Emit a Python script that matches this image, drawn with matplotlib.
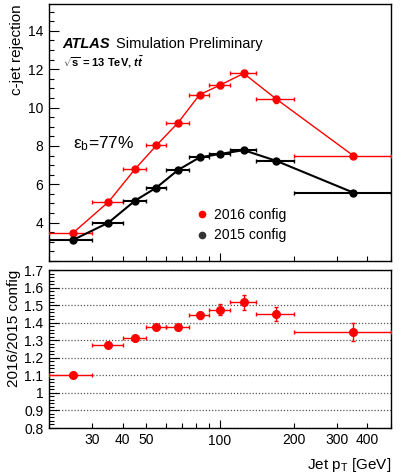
import matplotlib
matplotlib.use('Agg')
import matplotlib.pyplot as plt
from matplotlib.ticker import FixedLocator, FuncFormatter, MultipleLocator, NullFormatter
from matplotlib.lines import Line2D

plt.rcParams['font.family'] = ['Liberation Sans', 'DejaVu Sans']
plt.rcParams['mathtext.fontset'] = 'custom'
plt.rcParams['mathtext.rm'] = 'Liberation Sans'
plt.rcParams['mathtext.it'] = 'Liberation Sans:italic'
plt.rcParams['mathtext.bf'] = 'Liberation Sans:bold'
plt.rcParams['mathtext.bfit'] = 'Liberation Sans:italic:bold'

# jet pT bins [GeV]
pt_lo = [20, 30, 40, 50, 60, 75, 90, 110, 140, 200]
pt_hi = [30, 40, 50, 60, 75, 90, 110, 140, 200, 500]
pt_mid = [25, 35, 45, 55, 67.5, 82.5, 100, 125, 170, 350]

# c-jet rejection at eff_b = 77%
rej_2016 = [3.45, 5.08, 6.80, 8.03, 9.22, 10.67, 11.17, 11.78, 10.44, 7.50]
rej_2016_err = [0.05, 0.07, 0.08, 0.09, 0.10, 0.12, 0.15, 0.18, 0.18, 0.15]
rej_2015 = [3.09, 4.00, 5.15, 5.83, 6.75, 7.40, 7.58, 7.78, 7.22, 5.57]
rej_2015_err = [0.03, 0.04, 0.05, 0.05, 0.06, 0.06, 0.07, 0.08, 0.08, 0.06]

# ratio 2016 / 2015
ratio = [1.100, 1.275, 1.315, 1.378, 1.375, 1.442, 1.474, 1.515, 1.450, 1.347]
ratio_err = [0.005, 0.008, 0.010, 0.012, 0.014, 0.020, 0.030, 0.040, 0.040, 0.050]

x_lo_err = [m - l for m, l in zip(pt_mid, pt_lo)]
x_hi_err = [h - m for m, h in zip(pt_mid, pt_hi)]

W, H = 401, 473
fig = plt.figure(figsize=(W / 100, H / 100), dpi=100)
ax1 = fig.add_axes([49 / W, 1 - 261 / H, 342 / W, 257 / H])
ax2 = fig.add_axes([49 / W, 1 - 428 / H, 342 / W, 158 / H])


def style_x(ax):
    ax.set_xscale('log')
    ax.set_xlim(20, 500)
    ax.xaxis.set_major_locator(FixedLocator([100]))
    ax.xaxis.set_minor_locator(FixedLocator([20, 30, 40, 50, 60, 70, 80, 90, 200, 300, 400, 500]))
    ax.tick_params(axis='x', which='major', direction='in', length=6, width=0.8)
    ax.tick_params(axis='x', which='minor', direction='in', length=3.5, width=0.8)
    ax.tick_params(axis='y', which='major', direction='in', length=7, width=0.8)
    ax.tick_params(axis='y', which='minor', direction='in', length=3.5, width=0.8)
    ax.tick_params(labelsize=10, pad=4)
    for s in ax.spines.values():
        s.set_linewidth(1.0)


labelled = [30, 40, 50, 100, 200, 300, 400]
fmt = FuncFormatter(lambda v, p: '%d' % round(v) if round(v) in labelled else '')

# top panel
style_x(ax1)
ax1.xaxis.set_major_formatter(NullFormatter())
ax1.xaxis.set_minor_formatter(NullFormatter())
ax1.set_ylim(2.0, 15.4)
ax1.yaxis.set_major_locator(MultipleLocator(2))
ax1.yaxis.set_minor_locator(MultipleLocator(0.5))
ax1.yaxis.set_major_formatter(FuncFormatter(lambda v, p: '' if v < 3 else '%d' % v))

ax1.errorbar(pt_mid, rej_2016, xerr=[x_lo_err, x_hi_err], yerr=rej_2016_err,
             color='#ff0000', marker='o', ms=5, lw=1.0, elinewidth=1.0, capsize=1.5, zorder=3)
ax1.errorbar(pt_mid, rej_2015, xerr=[x_lo_err, x_hi_err], yerr=rej_2015_err,
             color='black', marker='o', ms=5, lw=1.5, elinewidth=1.5, capsize=1.5, zorder=3)

ax1.set_ylabel('c-jet rejection', fontsize=11, loc='top', labelpad=3)

ax1.text(0.038, 0.829, 'ATLAS', transform=ax1.transAxes, fontsize=10.5,
         fontweight='bold', fontstyle='italic', va='baseline')
ax1.text(0.195, 0.829, 'Simulation Preliminary', transform=ax1.transAxes,
         fontsize=10.5, va='baseline')
ax1.text(0.040, 0.756, r'$\sqrt{\mathbf{s}}$ = 13 TeV, $\mathbfit{t\bar{t}}$',
         transform=ax1.transAxes, fontsize=8, fontweight='bold', va='baseline')
ax1.text(0.07, 0.44, r'$\mathrm{ε_{b}}$=77%', transform=ax1.transAxes,
         fontsize=12.5, va='baseline')

handles = [Line2D([], [], ls='none', marker='o', ms=4.5, color='#ff0000'),
           Line2D([], [], ls='none', marker='o', ms=4.5, color='#333333')]
ax1.legend(handles, ['2016 config', '2015 config'], loc='center left',
           bbox_to_anchor=(0.41, 0.139), frameon=False, fontsize=10,
           handlelength=0.8, handletextpad=0.5, labelspacing=0.45, borderpad=0)

# ratio panel
style_x(ax2)
ax2.xaxis.set_major_formatter(fmt)
ax2.xaxis.set_minor_formatter(fmt)
ax2.set_ylim(0.8, 1.7)
ax2.yaxis.set_major_locator(MultipleLocator(0.1))
ax2.yaxis.set_minor_locator(MultipleLocator(0.02))
ax2.yaxis.set_major_formatter(FuncFormatter(lambda v, p: '1' if abs(v - 1) < 1e-6 else '%.1f' % v))
ax2.grid(axis='y', which='major', ls=(0, (1, 1.5)), color='#555555', lw=0.9)

ax2.errorbar(pt_mid, ratio, xerr=[x_lo_err, x_hi_err], yerr=ratio_err,
             color='#ff0000', marker='o', ms=5.5, ls='none', elinewidth=1.0, capsize=1.5, zorder=3)

ax2.set_ylabel('2016/2015 config', fontsize=11, loc='top', labelpad=2)
ax2.set_xlabel(r'Jet $\mathrm{p_{T}}$ [GeV]', fontsize=11, loc='right', labelpad=6)

fig.savefig('out.png', dpi=100)
